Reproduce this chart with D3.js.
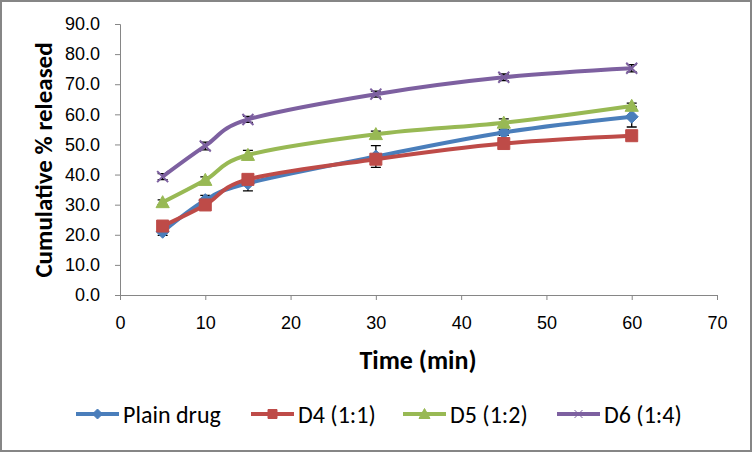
<!DOCTYPE html>
<html>
<head>
<meta charset="utf-8">
<script src="https://cdn.jsdelivr.net/npm/d3@7"></script>
<style>
  body { margin: 0; background: #fff; }
  svg { font-family: Carlito, Lato, "Open Sans", sans-serif; }
</style>
</head>
<body>
<div id="graph"></div>
<script>
// data
var times = [5, 10, 15, 30, 45, 60];
var seriesNames = ["Plain drug", "D4 (1:1)", "D5 (1:2)", "D6 (1:4)"];
var plainDrug = [21.0, 31.5, 37.1, 46.0, 54.0, 59.2];
var d4 = [22.9, 29.9, 38.4, 45.1, 50.3, 52.9];
var d5 = [30.8, 38.2, 46.5, 53.4, 57.2, 62.8];
var d6 = [39.3, 49.5, 58.3, 66.7, 72.3, 75.3];
var plainErr = [1.2, 1.6, 2.5, 3.6, 1.0, 3.4];
var d4Err = [0.8, 1.0, 1.0, 1.0, 1.0, 1.0];
var d5Err = [0.8, 1.0, 1.5, 1.0, 1.3, 0.9];
var d6Err = [1.0, 1.3, 1.0, 1.0, 1.1, 1.2];
var xTicks = [0, 10, 20, 30, 40, 50, 60, 70];
var yTicks = [0, 10, 20, 30, 40, 50, 60, 70, 80, 90];

var colors = ["#4A7EBB", "#BE4B48", "#98B954", "#7D60A0"];
var markers = ["diamond", "square", "triangle", "cross"];
var values = [plainDrug, d4, d5, d6];
var errs = [plainErr, d4Err, d5Err, d6Err];

var W = 752, H = 452;
var margin = {top: 24, right: 35, bottom: 157, left: 120},
    width = W - margin.left - margin.right,
    height = H - margin.top - margin.bottom;

var root = d3.select("#graph").append("svg")
    .attr("width", W).attr("height", H);

root.append("rect")
    .attr("x", 1).attr("y", 1).attr("width", W - 2).attr("height", H - 2)
    .attr("fill", "#fff").attr("stroke", "#868686").attr("stroke-width", 2);

var svg = root.append("g")
    .attr("transform", "translate(" + margin.left + "," + margin.top + ")");

var x = d3.scaleLinear().domain([0, 70]).range([0, width]);
var y = d3.scaleLinear().domain([0, 90]).range([height, 0]);

var xAxis = svg.append("g")
    .attr("transform", "translate(0," + height + ")")
    .call(d3.axisBottom(x).tickValues(xTicks).tickSize(5).tickPadding(16).tickFormat(d3.format("d")));
var yAxis = svg.append("g")
    .call(d3.axisLeft(y).tickValues(yTicks).tickSize(5).tickPadding(15).tickFormat(d3.format(".1f")));

[xAxis, yAxis].forEach(function(a) {
  a.select(".domain").attr("stroke", "#868686");
  a.selectAll(".tick line").attr("stroke", "#868686");
  a.selectAll(".tick text").attr("fill", "#000").style("font-size", "18px");
});

root.append("text")
    .attr("transform", "translate(52," + 160 + ") rotate(-90)")
    .attr("text-anchor", "middle")
    .style("font-size", "25px").style("font-weight", "bold")
    .text("Cumulative % released");

root.append("text")
    .attr("x", 418).attr("y", 369)
    .attr("text-anchor", "middle")
    .style("font-size", "26px").style("font-weight", "bold")
    .text("Time (min)");

function markerPath(type, s) {
  if (type == "diamond") return "M0," + (-s) + "L" + s + ",0L0," + s + "L" + (-s) + ",0Z";
  if (type == "square") return "M" + (-s) + "," + (-s) + "h" + (2 * s) + "v" + (2 * s) + "h" + (-2 * s) + "Z";
  if (type == "triangle") return "M0," + (-s * 1.1) + "L" + (s * 1.1) + "," + (s * 0.9) + "L" + (-s * 1.1) + "," + (s * 0.9) + "Z";
  return "M" + (-s) + "," + (-s) + "L" + s + "," + s + "M" + s + "," + (-s) + "L" + (-s) + "," + s;
}

var line = d3.line()
    .x(function(d) { return x(d.t); })
    .y(function(d) { return y(d.v); })
    .curve(d3.curveCardinal.tension(0));

values.forEach(function(vals, i) {
  var pts = times.map(function(t, j) { return {t: t, v: vals[j], e: errs[i][j]}; });
  var g = svg.append("g");

  g.selectAll(".err").data(pts).enter().append("path")
      .attr("d", function(d) {
        var x0 = x(d.t), y1 = y(d.v + d.e), y2 = y(d.v - d.e);
        return "M" + x0 + "," + y1 + "V" + y2 + "M" + (x0 - 5) + "," + y1 + "h10M" + (x0 - 5) + "," + y2 + "h10";
      })
      .attr("stroke", "#000").attr("stroke-width", 1.3).attr("fill", "none");

  g.append("path").datum(pts)
      .attr("d", line)
      .attr("fill", "none").attr("stroke", colors[i]).attr("stroke-width", 4);

  var sz = markers[i] == "diamond" ? 6.5 : markers[i] == "cross" ? 5.5 : 6;
  g.selectAll(".mk").data(pts).enter().append("path")
      .attr("transform", function(d) { return "translate(" + x(d.t) + "," + y(d.v) + ")"; })
      .attr("d", markerPath(markers[i], sz))
      .attr("fill", markers[i] == "cross" ? "none" : colors[i])
      .attr("stroke", colors[i])
      .attr("stroke-width", markers[i] == "cross" ? 2 : 1);
});

// legend
var legendX = [76, 251, 403, 557];
var legend = root.append("g").attr("transform", "translate(0,414)");
seriesNames.forEach(function(name, i) {
  var lg = legend.append("g").attr("transform", "translate(" + legendX[i] + ",0)");
  lg.append("line").attr("x1", 0).attr("x2", 43).attr("y1", 0).attr("y2", 0)
      .attr("stroke", colors[i]).attr("stroke-width", 4);
  var sz = markers[i] == "square" ? 4.5 : markers[i] == "cross" ? 4 : 5;
  lg.append("path").attr("transform", "translate(21.5,0)")
      .attr("d", markerPath(markers[i], sz))
      .attr("fill", markers[i] == "cross" ? "none" : colors[i])
      .attr("stroke", colors[i]).attr("stroke-width", 1);
  lg.append("text").attr("x", 47).attr("y", 8.5)
      .style("font-size", "24px").text(name);
});
</script>
</body>
</html>
